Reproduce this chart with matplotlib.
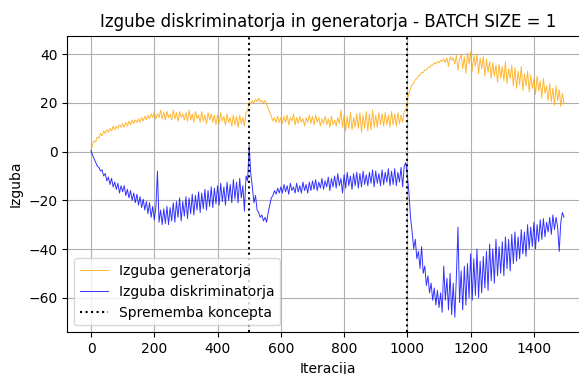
import numpy as np
import matplotlib.pyplot as plt

# iteracije (vsakih 5 korakov), vrednosti odčitane s slike
iteracije = np.arange(0, 1500, 5)

izguba_gen = [
    0.5, 3, 4.5, 4, 6, 5.5, 7.5, 6.5, 8.5, 7.5,
    9, 8, 9.5, 8.5, 10.5, 9, 10.5, 9.5, 11, 10,
    11.5, 10, 12, 10.5, 12.5, 11, 13, 11.5, 13, 12,
    13.5, 12, 14, 12.5, 14.5, 13, 15, 13.5, 15.5, 14,
    16, 13.5, 15.5, 14, 17, 13.5, 16, 13, 16.5, 14,
    15.5, 13, 17, 13.5, 16, 12.5, 16.5, 14, 15.5, 13,
    16, 12.5, 17, 13, 15.5, 12, 16.5, 13.5, 15, 12,
    16.5, 12.5, 15, 11.5, 16, 13, 15.5, 12, 15, 11,
    15, 11.5, 16, 12.5, 14.5, 11, 15.5, 12, 14, 10.5,
    15, 11, 14.5, 10, 15, 11.5, 14, 10.5, 16, 17,
    20.5, 19.5, 21, 20, 21.5, 20.5, 22, 20.5, 21, 20,
    21, 19.5, 18, 16, 14.5, 12.5, 14, 12, 14.5, 12,
    14, 11.5, 14.5, 12, 15, 11, 14, 12.5, 15.5, 11,
    14, 11.5, 14.5, 12, 13.5, 10.5, 14, 12, 15, 11.5,
    14.5, 11, 15, 12, 14, 10.5, 13.5, 11.5, 14.5, 11,
    13.5, 10, 14.5, 11, 13, 10.5, 14, 11.5, 17, 10,
    15, 8.5, 14.5, 9.5, 16, 9, 14, 10, 15.5, 9.5,
    16, 8, 15, 9.5, 16.5, 8.5, 15.5, 9, 17, 10,
    15, 10, 16, 11, 15.5, 10.5, 16, 11, 15, 10,
    16.5, 11, 15.5, 10.5, 16, 11.5, 15, 12, 16.5, 17,
    21, 24, 26, 27.5, 28, 29.5, 30, 31, 31.5, 32.5,
    32.5, 33.5, 33.5, 34.5, 34.5, 35.5, 35.5, 36.5, 36, 37,
    36.5, 37.5, 37, 38, 36.5, 38.5, 35, 39, 37.5, 38.5,
    36, 39.5, 33.5, 38, 40, 34, 39, 32, 40.5, 36,
    41, 33, 39.5, 35, 40, 32, 38.5, 34, 39, 31,
    38, 32.5, 37, 30, 36.5, 31, 35.5, 28.5, 36, 30,
    35, 29, 37, 28, 34, 30, 35.5, 27, 34.5, 26,
    33, 27.5, 35, 25, 32, 27, 33, 24.5, 31.5, 26,
    30, 23.5, 31, 25, 29, 22, 30, 24, 27, 21,
    28, 20.5, 26, 19, 27, 21, 25.5, 18.5, 24, 19.5,
]

izguba_disk = [
    0.5, -1.5, -3, -4.5, -6, -6.5, -8, -7.5, -10, -9,
    -12, -10.5, -13.5, -11, -14.5, -12.5, -15.5, -13, -17, -14,
    -16.5, -14, -18, -15.5, -19, -16, -20, -17, -21, -17.5,
    -22, -18.5, -23, -19.5, -24, -20.5, -25.5, -21, -27, -22.5,
    -28, -23, -8, -29, -24, -30, -23.5, -29.5, -22.5, -30,
    -23, -28.5, -21, -29, -20.5, -27, -19, -28.5, -20.5, -26.5,
    -18.5, -27.5, -19, -25.5, -17.5, -26, -18, -24, -16.5, -25,
    -17, -23.5, -15.5, -24, -16, -22.5, -14.5, -23, -15, -21.5,
    -14, -22, -13, -20.5, -14.5, -22, -12.5, -20, -13.5, -21,
    -11.5, -19.5, -12.5, -21, -11, -19, -14, -24.5, -10, -12,
    2.5, -9, -14.5, -21, -18, -24, -25, -27, -26, -28.5,
    -27, -29, -25, -22, -19, -18, -16, -17.5, -15, -17,
    -14.5, -17, -13.5, -16.5, -14, -17.5, -13, -16, -14.5, -17,
    -13, -16.5, -14, -17, -12.5, -16, -13.5, -17, -12.5, -16,
    -12, -15.5, -11.5, -16, -12.5, -15, -11, -15.5, -12, -14.5,
    -10.5, -16, -11, -14.5, -10, -15, -9, -14, -11, -17,
    -9.5, -15, -8.5, -14, -10, -15.5, -9, -14, -8.5, -15,
    -9, -14.5, -8, -13.5, -9.5, -14, -8.5, -13, -7.5, -14.5,
    -8, -13, -9, -14, -7.5, -13.5, -8.5, -12.5, -7, -14,
    -8, -13.5, -7, -14, -8.5, -12.5, -6.5, -14.5, -6, -4.5,
    -10, -17, -27, -33, -40, -36, -44, -41, -48, -39,
    -50, -47, -55, -51, -58, -54, -61, -56, -63, -57,
    -64, -58, -66, -47, -61, -52, -65, -50, -67, -54,
    -68, -51, -31, -62, -49, -65, -47, -63, -46, -60,
    -42, -61, -44, -59, -40, -60, -45, -58, -43, -56,
    -41, -57, -38, -53, -40, -54, -36, -51, -39, -50,
    -37, -51, -35, -48, -36, -49, -34, -46, -33, -45,
    -35, -44, -32, -42, -33, -43, -30, -40, -31, -39,
    -29, -40, -30, -37, -28, -36, -27.5, -35, -29, -33,
    -27, -34, -26, -32, -27, -31, -41, -29, -25, -27,
]

spremembe = [500, 1000]

fig = plt.figure(figsize=(5.79, 3.74), dpi=100)
# os sega čez desni rob slike (kot na izvirniku)
ax = fig.add_axes([0.1162, 0.1115, 0.901, 0.793])

ax.plot(iteracije, izguba_gen, color="orange", linewidth=0.7, alpha=0.8, label="Izguba generatorja")
ax.plot(iteracije, izguba_disk, color="blue", linewidth=0.7, alpha=0.8, label="Izguba diskriminatorja")
for i, s in enumerate(spremembe):
    ax.axvline(s, color="black", linestyle=":", linewidth=1.5,
               label="Sprememba koncepta" if i == 0 else None)

ax.set_xlim(-75, 1574)
ax.set_ylim(-74.2, 47.6)
ax.set_xticks([0, 200, 400, 600, 800, 1000, 1200, 1400])
ax.set_title("Izgube diskriminatorja in generatorja - BATCH SIZE = 1")
ax.set_xlabel("Iteracija")
ax.set_ylabel("Izguba")
ax.grid(True)
ax.legend(loc="lower left")

fig.savefig("out.png", dpi=100)
